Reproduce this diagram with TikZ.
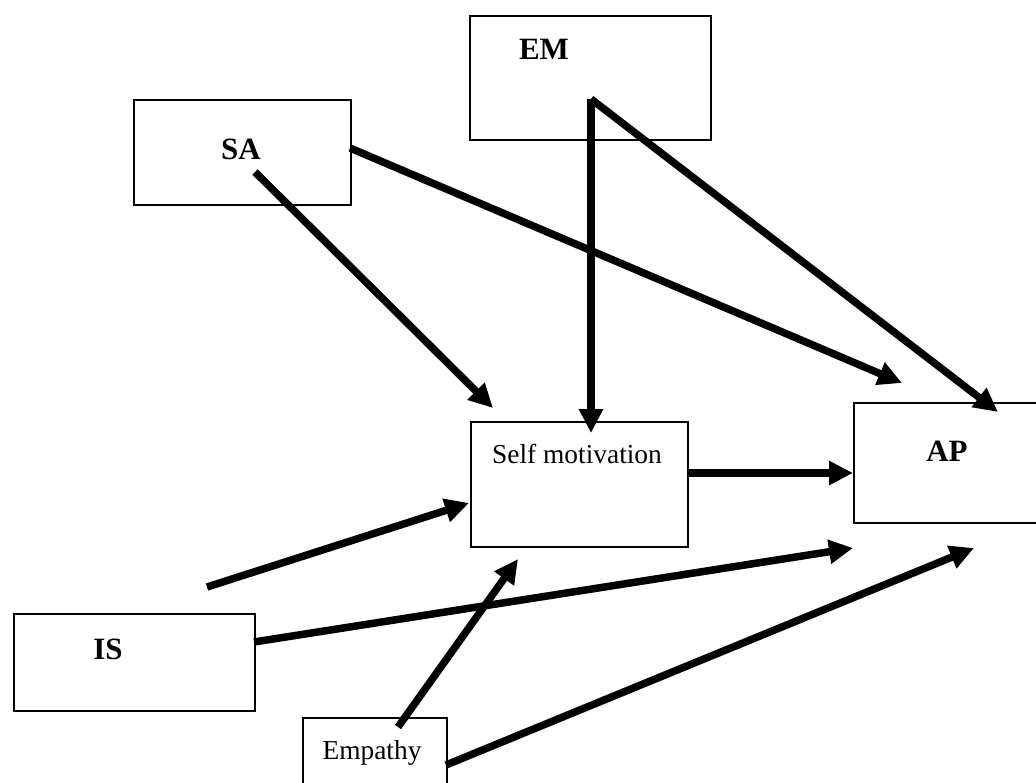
\documentclass[tikz,border=0pt]{standalone}
\usepackage{fontspec}
\setmainfont{Liberation Serif}
\usetikzlibrary{arrows.meta}
\begin{document}
\begin{tikzpicture}[x=1pt,y=-1pt,
  box/.style={draw=black,line width=2pt,inner sep=0pt,anchor=north west},
  boldlbl/.style={anchor=base,inner sep=0pt,font=\fontsize{31}{34}\selectfont\bfseries},
  plainlbl/.style={anchor=base,inner sep=0pt,font=\fontsize{27.4}{30}\selectfont},
  conn/.style={line width=7.5pt,-{Triangle[length=24pt 0,width=23pt 0]}}]
\useasboundingbox[fill=white] (0,0) rectangle (1036,782);
% boxes
\node[box,minimum width=241pt,minimum height=124pt] (em) at (469,15) {};
\node[box,minimum width=217pt,minimum height=105pt] (sa) at (133,99) {};
\node[box,minimum width=217pt,minimum height=125pt] (sm) at (470,421) {};
\node[box,minimum width=190pt,minimum height=120pt] (ap) at (853,402) {};
\node[box,minimum width=241pt,minimum height=97pt] (is) at (13,613) {};
\node[box,minimum width=144pt,minimum height=75pt] (emp) at (302,717) {};
% labels
\node[boldlbl] (emt) at (544,59) {EM};
\node[boldlbl] (sat) at (241,159) {SA};
\node[boldlbl] (apt) at (947,461) {AP};
\node[boldlbl] (ist) at (108,659) {IS};
\node[plainlbl] (smt) at (577,463) {Self motivation};
\node[plainlbl] (empt) at (372,759) {Empathy};
% connector end points
\coordinate (saA) at (255,172);
\coordinate (saB) at (350,148);
\coordinate (emA) at (591,99);
\coordinate (smIn1) at (493,408);
\coordinate (smIn2) at (591,433);
\coordinate (smIn3) at (469,503);
\coordinate (smIn4) at (518,559);
\coordinate (smOut) at (687,473);
\coordinate (apIn1) at (902,383);
\coordinate (apIn2) at (998,412);
\coordinate (apIn3) at (853,473);
\coordinate (apIn4) at (853,548);
\coordinate (apIn5) at (974,548);
\coordinate (free) at (207,587);
\coordinate (isOut) at (254,642);
\coordinate (empA) at (398,727);
\coordinate (empB) at (446,765);
% connectors
\draw[conn] (saA) -- (smIn1);
\draw[conn] (saB) -- (apIn1);
\draw[conn] (emA) -- (smIn2);
\draw[conn] (emA) -- (apIn2);
\draw[conn] (smOut) -- (apIn3);
\draw[conn] (free) -- (smIn3);
\draw[conn] (isOut) -- (apIn4);
\draw[conn] (empA) -- (smIn4);
\draw[conn] (empB) -- (apIn5);
\end{tikzpicture}
\end{document}
